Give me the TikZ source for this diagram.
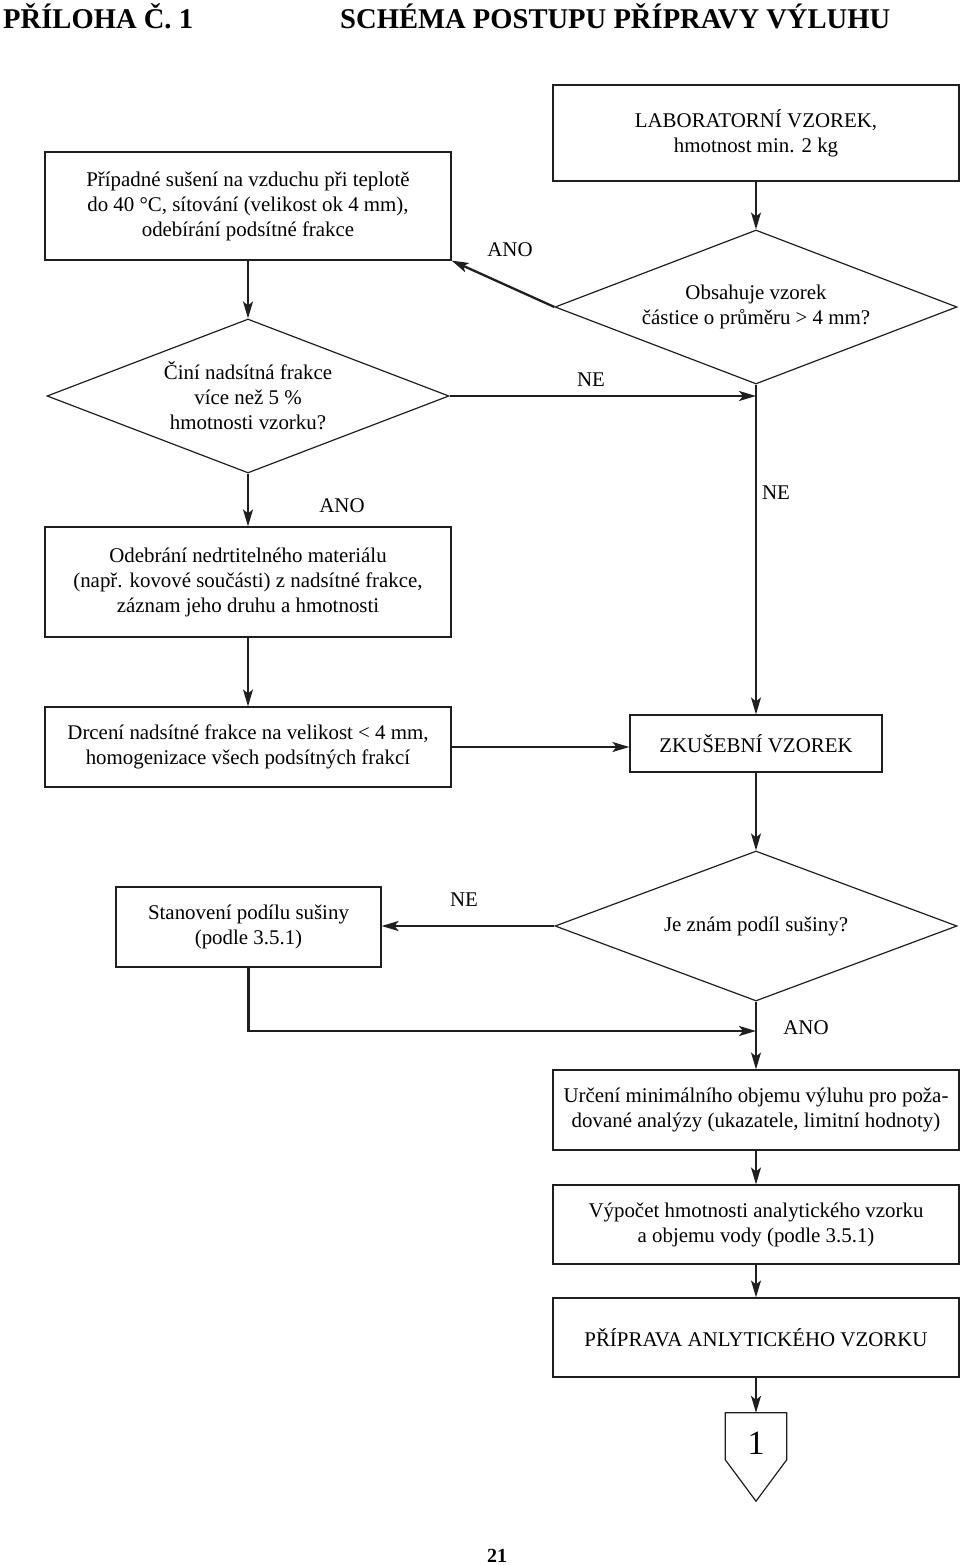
\documentclass[tikz,border=0pt]{standalone}
\usepackage{fontspec}
\setmainfont{Liberation Serif}
\usepackage{tikz}
\usetikzlibrary{arrows.meta,shapes,positioning}

\tikzset{
    box/.style={draw=black!88, line width=1.2pt, rectangle, inner sep=0pt, align=center, minimum width=406pt},
    choice/.style={draw=black!88, line width=1.2pt, diamond, aspect=2.6, inner sep=0pt, align=center, minimum width=402pt, minimum height=154pt},
    flow/.style={draw=black!88, line width=1.4pt, -{Stealth[length=17pt,width=10pt,inset=4pt]}},
    flowbold/.style={flow, line width=2.3pt},
    answer/.style={inner sep=0pt}
}

\begin{document}
\begin{tikzpicture}[x=1pt, y=-1pt, font=\fontsize{20.9}{25}\selectfont]
    \useasboundingbox (0,0) rectangle (960,1565);

    \node (title) [anchor=base west, inner sep=0pt, font=\fontsize{28.6}{32}\selectfont\bfseries] at (3,29) {PŘÍLOHA Č. 1};
    \node (head) [anchor=base west, inner sep=0pt, font=\fontsize{28.6}{32}\selectfont\bfseries] at (340,29) {SCHÉMA POSTUPU PŘÍPRAVY VÝLUHU};

    \node (lab) [box, minimum height=96pt] at (756,133) {LABORATORNÍ VZOREK,\\hmotnost min. 2 kg};
    \node (dry) [box, minimum height=108pt] at (248,206) {Případné sušení na vzduchu při teplotě\\do 40 °C, sítování (velikost ok 4 mm),\\odebírání podsítné frakce};
    \node (q1) [choice] at (756,307) {Obsahuje vzorek\\částice o průměru > 4 mm?};
    \node (q2) [choice] at (248,396) {Činí nadsítná frakce\\více než 5 \%\\hmotnosti vzorku?};
    \node (rem) [box, minimum height=110pt] at (248,582) {Odebrání nedrtitelného materiálu\\(např. kovové součásti) z nadsítné frakce,\\záznam jeho druhu a hmotnosti};
    \node (crush) [box, minimum height=80pt] at (248,747) {Drcení nadsítné frakce na velikost < 4 mm,\\homogenizace všech podsítných frakcí};
    \node (test) [box, minimum width=252pt, minimum height=57pt] at (756,743.5) {ZKUŠEBNÍ VZOREK};
    \node (q3) [choice, minimum height=150pt] at (756,926) {Je znám podíl sušiny?};
    \node (dm) [box, minimum width=265pt, minimum height=80pt] at (248.5,927) {Stanovení podílu sušiny\\(podle 3.5.1)};
    \node (vol) [box, minimum height=80pt] at (756,1110) {Určení minimálního objemu výluhu pro poža-\\dované analýzy (ukazatele, limitní hodnoty)};
    \node (calc) [box, minimum height=79pt] at (756,1224.5) {Výpočet hmotnosti analytického vzorku\\a objemu vody (podle 3.5.1)};
    \node (prep) [box, minimum height=79pt] at (756,1337.5) {PŘÍPRAVA ANLYTICKÉHO VZORKU};
    \node (tag) [inner sep=0pt, minimum width=61pt, minimum height=88pt] at (756,1457) {};
    \node (one) [font=\fontsize{34}{36}\selectfont] at (756,1443) {1};
    \node (page) [anchor=base, inner sep=0pt, font=\fontsize{20}{24}\selectfont\bfseries] at (497,1562) {21};

    \coordinate (join) at (q1.south |- q2.east);
    \coordinate (merge) at (756,1031);

    \node (ano1) [answer] at (510,250) {ANO};
    \node (ne1) [answer] at (591,380) {NE};
    \node (ne2) [answer] at (776,493) {NE};
    \node (ano2) [answer] at (342,506) {ANO};
    \node (ne3) [answer] at (464,900) {NE};
    \node (ano3) [answer] at (806,1028) {ANO};

    \draw[flow] (lab) -- (q1);
    \draw[flowbold] (q1.west) -- (dry.south east);
    \draw[flow] (dry) -- (q2);
    \draw[flowbold] (q2.east) -- (join);
    \draw[flow] (q1.south) -- (test.north);
    \draw[flow] (q2) -- (rem);
    \draw[flow] (rem) -- (crush);
    \draw[flowbold] (crush.east) -- (crush.east -| test.west);
    \draw[flow] (test) -- (q3);
    \draw[flowbold] (q3.west) -- (q3.west -| dm.east);
    \draw[flowbold] (dm.south) |- (merge);
    \draw[flow] (q3.south) -- (vol.north);
    \draw[flow] (vol) -- (calc);
    \draw[flow] (calc) -- (prep);
    \draw[flow] (prep) -- (tag);
    \draw[draw=black!88, line width=1.2pt] (tag.north west) -- (tag.north east) -- ([yshift=-47pt]tag.north east) -- (tag.south) -- ([yshift=-47pt]tag.north west) -- cycle;
\end{tikzpicture}
\end{document}
